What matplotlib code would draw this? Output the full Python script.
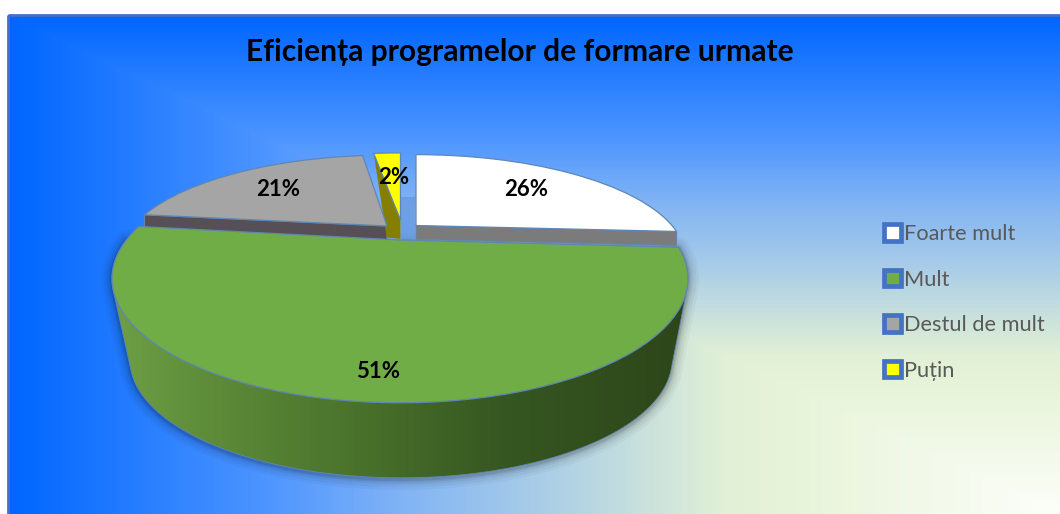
import numpy as np
import matplotlib
matplotlib.use("Agg")
import matplotlib.pyplot as plt
from matplotlib.colors import LinearSegmentedColormap
from matplotlib.patches import Patch, Polygon, Rectangle
from matplotlib.transforms import Transform

categories = ["Foarte mult", "Mult", "Destul de mult", "Puțin"]
values = [26, 51, 21, 2]
colors = ["#FFFFFF", "#70AD47", "#A5A5A5", "#FFFF00"]
title = "Eficiența programelor de formare urmate"

W, H = 1060, 514
FONT = "Lato"
EDGE = "#5F86B5"

# layout of each slice's top face: apex x, apex y, a, b, perspective k
face = [
    (416, 225.5, 256, 93, 0.312),
    (400, 240, 273.6, 112, 0.312),
    (387, 226, 254, 93, 0.312),
    (400.5, 220, 280, 88, 0.312),
]
green_base = (401, 323, 257.5, 106.5, 0.312)
label_xy = [(526, 190), (378, 372), (278, 189), (394, 178)]
wall_colors = ["#7B7B7B", None, "#565056", "#857F00"]


class Persp(Transform):
    input_dims = output_dims = 2
    is_separable = False
    has_inverse = False

    def __init__(self, x0, y0, a, b, k):
        super().__init__()
        self.p = (x0, y0, a, b, k)

    def transform_non_affine(self, xy):
        x0, y0, a, b, k = self.p
        xy = np.asarray(xy, float)
        d = 1 + k * xy[:, 1]
        return np.column_stack([x0 + a * xy[:, 0] / d, y0 - b * xy[:, 1] / d])


def project(p, deg):
    t = np.radians(np.atleast_1d(deg))
    return Persp(*p).transform_non_affine(np.column_stack([np.cos(t), np.sin(t)]))


def hull(pts):
    pts = sorted(map(tuple, pts))
    def half(seq):
        out = []
        for q in seq:
            while len(out) > 1 and ((out[-1][0]-out[-2][0])*(q[1]-out[-2][1])
                                    - (out[-1][1]-out[-2][1])*(q[0]-out[-2][0])) <= 0:
                out.pop()
            out.append(q)
        return out[:-1]
    return np.array(half(pts) + half(pts[::-1]))


fig = plt.figure(figsize=(W / 100, H / 100), dpi=100, facecolor="white")
ax = fig.add_axes([0, 0, 1, 1])

wedges, _, autotexts = ax.pie(
    values, colors=colors, startangle=90, counterclock=False,
    autopct="%.0f%%", wedgeprops=dict(edgecolor=EDGE, linewidth=0.9),
    textprops=dict(family=FONT, fontweight="bold", fontsize=16, color="black"),
)
ax.set_aspect("auto")
ax.set_xlim(0, W)
ax.set_ylim(H, 0)
ax.axis("off")

# background: rectangular gradient running out of the lower right corner
yy, xx = np.mgrid[15:H, 8:W]
grad = np.maximum((W - xx) / (W - 8), (H - yy) / (H - 15))
bg_cmap = LinearSegmentedColormap.from_list("bg", [
    (0.0, "#FDFEFB"), (0.25, "#E8F4D9"), (0.32, "#E1F0D6"), (0.39, "#CBE2DC"),
    (0.50, "#A8CCE8"), (0.63, "#80B3F5"), (0.75, "#4F96FF"), (1.0, "#0066FF")])
ax.imshow(grad, cmap=bg_cmap, vmin=0, vmax=1, extent=(8, W, H, 15),
          aspect="auto", zorder=0, interpolation="bilinear")
ax.add_patch(Rectangle((8, 15), W, H, fill=False, ec="#4472C4", lw=2, zorder=0.2))

for wedge, p, txt, xy in zip(wedges, face, autotexts, label_xy):
    wedge.set_transform(Persp(*p) + ax.transData)
    wedge.set_clip_on(False)
    txt.set_position(xy)
    txt.set_ha("center")
    txt.set_va("center")
    txt.set_zorder(8)

# walls of the slices behind the green one
wall_h = 14
w_white, w_green, w_gray, w_yellow = wedges
apex = np.array(face[0][:2], float)
tip = project(face[0], w_white.theta1)[0]
ax.add_patch(Polygon([apex, tip, tip + (0, wall_h), apex + (0, wall_h)],
                     fc=wall_colors[0], ec=EDGE, lw=0.8, zorder=1.5))
apex = np.array(face[2][:2], float)
tip = project(face[2], w_gray.theta2)[0]
ax.add_patch(Polygon([apex, tip, tip + (0, wall_h), apex + (0, wall_h)],
                     fc=wall_colors[2], ec=EDGE, lw=0.8, zorder=1.5))
apex = np.array(face[3][:2], float)
tip = project(face[3], w_yellow.theta2)[0]
ax.add_patch(Polygon([tip, apex, apex + (0, 19), tip + (13, 84)],
                     fc=wall_colors[3], ec="none", zorder=1.5))
# shade in the gap between the yellow and white slices
ax.add_patch(Rectangle((face[3][0], 197), 14, 44, fc="#5C8FD6", alpha=0.55, ec="none", zorder=1.2))
w_white.set_zorder(2)
w_gray.set_zorder(2)
w_yellow.set_zorder(2)

# green slice: curved wall with horizontal shading, under its top face
ts = np.linspace(-180, w_green.theta2, 200)
outline = hull(np.vstack([project(face[1], ts), project(green_base, ts)]))
for lw, al in zip([16, 12, 8, 5, 3], [0.03, 0.04, 0.05, 0.07, 0.09]):
    ax.add_patch(Polygon(outline + (0, 1), fill=False, ec="black", lw=lw, alpha=al,
                         joinstyle="round", zorder=0.5))
wall_cmap = LinearSegmentedColormap.from_list("wall", [
    (0.0, "#6E9F45"), (0.15, "#5F8E3A"), (0.42, "#4A722C"), (0.68, "#365721"), (1.0, "#2D451A")])
x0, x1 = outline[:, 0].min(), outline[:, 0].max()
clip = Polygon(outline, transform=ax.transData)
im = ax.imshow(np.linspace(0, 1, 256)[None, :], cmap=wall_cmap, extent=(x0, x1, 490, 230),
               aspect="auto", zorder=3)
im.set_clip_path(clip)
ax.add_patch(Polygon(outline, fill=False, ec=EDGE, lw=0.6, zorder=3.1))
w_green.set_zorder(4)

ax.set_xlim(0, W)
ax.set_ylim(H, 0)

ax.text(520, 52, title, family=FONT, fontweight="bold", fontsize=21.6, color="black",
        ha="center", va="center", zorder=8)

handles = [Patch(facecolor=c, edgecolor="#4472C4", linewidth=3.4) for c in colors]
ax.legend(handles, categories, loc="upper left", bbox_to_anchor=(884, 224),
          bbox_transform=ax.transData, frameon=False, prop=dict(family=FONT, size=15.7),
          labelcolor="#595959", handlelength=0.8, handleheight=0.8, handletextpad=0.12,
          labelspacing=1.17, borderpad=0, borderaxespad=0)

fig.savefig("out.png", dpi=100)
